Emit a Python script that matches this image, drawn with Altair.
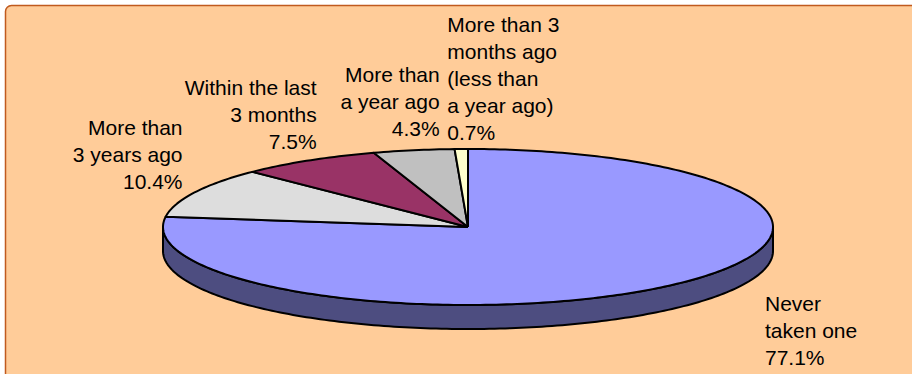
import numpy as np
import pandas as pd
import altair as alt

# ---- data ----
categories = [
    "Never taken one",
    "More than 3 years ago",
    "Within the last 3 months",
    "More than a year ago",
    "More than 3 months ago (less than a year ago)",
]
values = [77.1, 10.4, 7.5, 4.3, 0.7]
label_lines = [
    ["Never", "taken one"],
    ["More than", "3 years ago"],
    ["Within the last", "3 months"],
    ["More than", "a year ago"],
    ["More than 3", "months ago", "(less than", "a year ago)"],
]

# ---- styles / layout ----
top_colors = ["#9999FF", "#DDDDDD", "#993366", "#C0C0C0", "#FFFFCC"]
side_colors = ["#4D4D80", "#6F6F6F", "#4D1A33", "#606060", "#808066"]
label_style = [
    dict(align="left", dx=96, dy=8),
    dict(align="right", dx=-12, dy=-74),
    dict(align="right", dx=8, dy=-82),
    dict(align="right", dx=26, dy=-85),
    dict(align="left", dx=-14, dy=-134),
]
W, H = 912, 374
CX, CY, RX, RY, DEPTH = 468, 227, 305, 78, 24
x_domain = [-CX / RX, (W - CX) / RX]
y_domain = [-(H - CY) / RY, CY / RY]
depth = DEPTH / RY

# ---- geometry from values ----
top_rows, side_rows, label_rows = [], [], []
cum = 0.0
for i, (cat, v) in enumerate(zip(categories, values)):
    a0 = 90 - cum * 3.6
    a1 = a0 - v * 3.6
    cum += v
    n = max(2, int(np.ceil(abs(a0 - a1))))
    angs = np.radians(np.linspace(a0, a1, n + 1))
    pts = [(0.0, 0.0)] + [(np.cos(a), np.sin(a)) for a in angs] + [(0.0, 0.0)]
    for j, (px, py) in enumerate(pts):
        top_rows.append(dict(key=f"top{i}", idx=j, x=px, y=py))
    # front-facing side wall (sin < 0)
    for k in (-1, 0, 1):
        lo = max(a1, -180 + 360 * k)
        hi = min(a0, 0 + 360 * k)
        if hi > lo:
            m = max(2, int(np.ceil(hi - lo)))
            sa = np.radians(np.linspace(lo, hi, m + 1))
            edge = [(np.cos(a), np.sin(a)) for a in sa]
            poly = edge + [(px, py - depth) for px, py in reversed(edge)] + [edge[0]]
            for j, (px, py) in enumerate(poly):
                side_rows.append(dict(key=f"side{i}_{k}", cidx=i, idx=j, x=px, y=py))
    mid = np.radians((a0 + a1) / 2)
    label_rows.append(dict(
        key=f"lab{i}", x=np.cos(mid), y=np.sin(mid),
        text="\n".join(label_lines[i] + [f"{v:.1f}%"]),
    ))

top_df = pd.DataFrame(top_rows)
side_df = pd.DataFrame(side_rows)
lab_df = pd.DataFrame(label_rows)

xs = alt.Scale(domain=x_domain, nice=False, zero=False)
ys = alt.Scale(domain=y_domain, nice=False, zero=False)
X = alt.X("x:Q", scale=xs, axis=None)
Y = alt.Y("y:Q", scale=ys, axis=None)

frame = alt.Chart(pd.DataFrame({"a": [0]})).mark_rect(
    fill="#FFCC99", stroke="#C05A1E", strokeWidth=1.5, cornerRadius=6
).encode(x=alt.value(5.5), x2=alt.value(W + 20), y=alt.value(5.5), y2=alt.value(H + 20))

side_keys = list(dict.fromkeys(side_df["key"]))
side_range = [side_colors[int(k[4:].split("_")[0])] for k in side_keys]
side = alt.Chart(side_df).mark_line(
    stroke="black", strokeWidth=2, strokeJoin="round"
).encode(
    x=X, y=Y, detail="key:N", order="idx:Q",
    fill=alt.Fill("key:N", scale=alt.Scale(domain=side_keys, range=side_range), legend=None),
)

top_keys = [f"top{i}" for i in range(len(values))]
top = alt.Chart(top_df).mark_line(
    stroke="black", strokeWidth=2, strokeJoin="round"
).encode(
    x=X, y=Y, detail="key:N", order="idx:Q",
    fill=alt.Fill("key:N", scale=alt.Scale(domain=top_keys, range=top_colors), legend=None),
)

labels = []
for i, st in enumerate(label_style):
    labels.append(
        alt.Chart(lab_df).transform_filter(alt.datum.key == f"lab{i}").mark_text(
            align=st["align"], baseline="top", dx=st["dx"], dy=st["dy"],
            font="Liberation Sans", fontSize=21, lineHeight=27, lineBreak="\n", color="black",
        ).encode(x=X, y=Y, text="text:N")
    )

chart = alt.layer(frame, side, top, *labels).resolve_scale(fill="independent").properties(
    width=W, height=H, padding=0, autosize=alt.AutoSizeParams(type="none"), background="white"
).configure_view(stroke=None)

chart.save("out.html", embed_options={"renderer": "svg", "actions": False})
